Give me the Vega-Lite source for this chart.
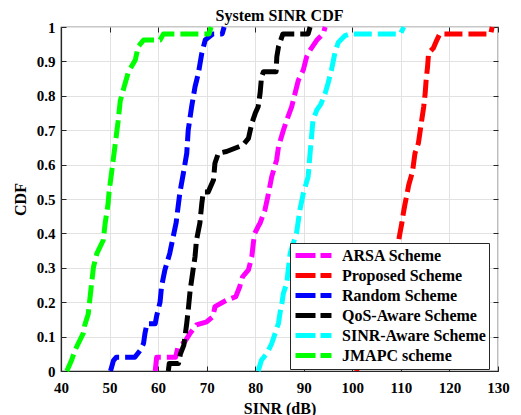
{
  "$schema": "https://vega.github.io/schema/vega-lite/v6.json",
  "width": 437,
  "height": 344,
  "autosize": "none",
  "padding": {"left": 61, "top": 27, "right": 23, "bottom": 44},
  "background": "white",
  "title": {
    "text": "System SINR CDF",
    "font": "Liberation Serif",
    "fontSize": 16,
    "fontWeight": "bold",
    "color": "#000000",
    "offset": -4
  },
  "data": {
    "values": [
      {"s": "ARSA Scheme", "x": 59.4, "y": 0},
      {"s": "ARSA Scheme", "x": 59.7, "y": 0.04},
      {"s": "ARSA Scheme", "x": 63.6, "y": 0.04},
      {"s": "ARSA Scheme", "x": 64.1, "y": 0.07},
      {"s": "ARSA Scheme", "x": 65.5, "y": 0.085},
      {"s": "ARSA Scheme", "x": 66.6, "y": 0.11},
      {"s": "ARSA Scheme", "x": 67.9, "y": 0.134},
      {"s": "ARSA Scheme", "x": 70.0, "y": 0.143},
      {"s": "ARSA Scheme", "x": 71.3, "y": 0.158},
      {"s": "ARSA Scheme", "x": 71.7, "y": 0.187},
      {"s": "ARSA Scheme", "x": 74.1, "y": 0.206},
      {"s": "ARSA Scheme", "x": 76.0, "y": 0.216},
      {"s": "ARSA Scheme", "x": 76.8, "y": 0.245},
      {"s": "ARSA Scheme", "x": 77.4, "y": 0.274},
      {"s": "ARSA Scheme", "x": 78.6, "y": 0.294},
      {"s": "ARSA Scheme", "x": 79.3, "y": 0.332},
      {"s": "ARSA Scheme", "x": 79.6, "y": 0.371},
      {"s": "ARSA Scheme", "x": 79.9, "y": 0.4},
      {"s": "ARSA Scheme", "x": 80.6, "y": 0.42},
      {"s": "ARSA Scheme", "x": 81.0, "y": 0.43},
      {"s": "ARSA Scheme", "x": 82.0, "y": 0.468},
      {"s": "ARSA Scheme", "x": 82.6, "y": 0.507},
      {"s": "ARSA Scheme", "x": 83.4, "y": 0.565},
      {"s": "ARSA Scheme", "x": 84.4, "y": 0.613},
      {"s": "ARSA Scheme", "x": 84.8, "y": 0.652},
      {"s": "ARSA Scheme", "x": 85.8, "y": 0.7},
      {"s": "ARSA Scheme", "x": 86.5, "y": 0.73},
      {"s": "ARSA Scheme", "x": 87.5, "y": 0.768},
      {"s": "ARSA Scheme", "x": 88.2, "y": 0.807},
      {"s": "ARSA Scheme", "x": 88.9, "y": 0.846},
      {"s": "ARSA Scheme", "x": 89.9, "y": 0.875},
      {"s": "ARSA Scheme", "x": 90.6, "y": 0.914},
      {"s": "ARSA Scheme", "x": 91.3, "y": 0.933},
      {"s": "ARSA Scheme", "x": 92.7, "y": 0.962},
      {"s": "ARSA Scheme", "x": 94.0, "y": 0.98},
      {"s": "ARSA Scheme", "x": 94.4, "y": 1},

      {"s": "Proposed Scheme", "x": 100.9, "y": 0},
      {"s": "Proposed Scheme", "x": 101.1, "y": 0.02},
      {"s": "Proposed Scheme", "x": 102.6, "y": 0.02},
      {"s": "Proposed Scheme", "x": 103.5, "y": 0.08},
      {"s": "Proposed Scheme", "x": 104.5, "y": 0.15},
      {"s": "Proposed Scheme", "x": 105.5, "y": 0.2},
      {"s": "Proposed Scheme", "x": 106.5, "y": 0.26},
      {"s": "Proposed Scheme", "x": 107.5, "y": 0.3},
      {"s": "Proposed Scheme", "x": 108.5, "y": 0.34},
      {"s": "Proposed Scheme", "x": 109.5, "y": 0.376},
      {"s": "Proposed Scheme", "x": 109.8, "y": 0.4},
      {"s": "Proposed Scheme", "x": 110.2, "y": 0.43},
      {"s": "Proposed Scheme", "x": 110.5, "y": 0.458},
      {"s": "Proposed Scheme", "x": 110.8, "y": 0.482},
      {"s": "Proposed Scheme", "x": 111.2, "y": 0.51},
      {"s": "Proposed Scheme", "x": 111.6, "y": 0.54},
      {"s": "Proposed Scheme", "x": 112.4, "y": 0.58},
      {"s": "Proposed Scheme", "x": 112.9, "y": 0.633},
      {"s": "Proposed Scheme", "x": 113.6, "y": 0.662},
      {"s": "Proposed Scheme", "x": 114.0, "y": 0.7},
      {"s": "Proposed Scheme", "x": 114.3, "y": 0.73},
      {"s": "Proposed Scheme", "x": 114.7, "y": 0.768},
      {"s": "Proposed Scheme", "x": 115.0, "y": 0.807},
      {"s": "Proposed Scheme", "x": 115.2, "y": 0.846},
      {"s": "Proposed Scheme", "x": 115.5, "y": 0.885},
      {"s": "Proposed Scheme", "x": 115.7, "y": 0.924},
      {"s": "Proposed Scheme", "x": 116.7, "y": 0.939},
      {"s": "Proposed Scheme", "x": 117.4, "y": 0.962},
      {"s": "Proposed Scheme", "x": 118.0, "y": 0.98},
      {"s": "Proposed Scheme", "x": 128.5, "y": 0.98},
      {"s": "Proposed Scheme", "x": 128.8, "y": 1},

      {"s": "Random Scheme", "x": 50.2, "y": 0},
      {"s": "Random Scheme", "x": 50.8, "y": 0.03},
      {"s": "Random Scheme", "x": 51.4, "y": 0.04},
      {"s": "Random Scheme", "x": 55.2, "y": 0.04},
      {"s": "Random Scheme", "x": 56.3, "y": 0.06},
      {"s": "Random Scheme", "x": 57.0, "y": 0.08},
      {"s": "Random Scheme", "x": 57.3, "y": 0.11},
      {"s": "Random Scheme", "x": 57.7, "y": 0.137},
      {"s": "Random Scheme", "x": 59.4, "y": 0.137},
      {"s": "Random Scheme", "x": 59.7, "y": 0.16},
      {"s": "Random Scheme", "x": 60.4, "y": 0.2},
      {"s": "Random Scheme", "x": 60.7, "y": 0.245},
      {"s": "Random Scheme", "x": 61.4, "y": 0.294},
      {"s": "Random Scheme", "x": 62.4, "y": 0.342},
      {"s": "Random Scheme", "x": 63.1, "y": 0.39},
      {"s": "Random Scheme", "x": 63.7, "y": 0.43},
      {"s": "Random Scheme", "x": 64.2, "y": 0.487},
      {"s": "Random Scheme", "x": 64.5, "y": 0.52},
      {"s": "Random Scheme", "x": 65.2, "y": 0.575},
      {"s": "Random Scheme", "x": 65.9, "y": 0.633},
      {"s": "Random Scheme", "x": 66.2, "y": 0.7},
      {"s": "Random Scheme", "x": 66.9, "y": 0.768},
      {"s": "Random Scheme", "x": 67.6, "y": 0.826},
      {"s": "Random Scheme", "x": 68.3, "y": 0.866},
      {"s": "Random Scheme", "x": 69.0, "y": 0.924},
      {"s": "Random Scheme", "x": 69.7, "y": 0.962},
      {"s": "Random Scheme", "x": 71.3, "y": 0.98},
      {"s": "Random Scheme", "x": 73.2, "y": 0.98},
      {"s": "Random Scheme", "x": 73.6, "y": 1},

      {"s": "QoS-Aware Scheme", "x": 62.1, "y": 0},
      {"s": "QoS-Aware Scheme", "x": 62.3, "y": 0.022},
      {"s": "QoS-Aware Scheme", "x": 64.2, "y": 0.022},
      {"s": "QoS-Aware Scheme", "x": 64.6, "y": 0.05},
      {"s": "QoS-Aware Scheme", "x": 65.3, "y": 0.075},
      {"s": "QoS-Aware Scheme", "x": 65.9, "y": 0.139},
      {"s": "QoS-Aware Scheme", "x": 66.2, "y": 0.177},
      {"s": "QoS-Aware Scheme", "x": 66.6, "y": 0.235},
      {"s": "QoS-Aware Scheme", "x": 67.2, "y": 0.294},
      {"s": "QoS-Aware Scheme", "x": 67.6, "y": 0.332},
      {"s": "QoS-Aware Scheme", "x": 67.9, "y": 0.38},
      {"s": "QoS-Aware Scheme", "x": 68.6, "y": 0.43},
      {"s": "QoS-Aware Scheme", "x": 69.0, "y": 0.487},
      {"s": "QoS-Aware Scheme", "x": 69.3, "y": 0.52},
      {"s": "QoS-Aware Scheme", "x": 70.3, "y": 0.52},
      {"s": "QoS-Aware Scheme", "x": 71.4, "y": 0.555},
      {"s": "QoS-Aware Scheme", "x": 71.7, "y": 0.604},
      {"s": "QoS-Aware Scheme", "x": 72.4, "y": 0.633},
      {"s": "QoS-Aware Scheme", "x": 74.1, "y": 0.638},
      {"s": "QoS-Aware Scheme", "x": 77.5, "y": 0.657},
      {"s": "QoS-Aware Scheme", "x": 78.6, "y": 0.676},
      {"s": "QoS-Aware Scheme", "x": 79.3, "y": 0.72},
      {"s": "QoS-Aware Scheme", "x": 80.0, "y": 0.749},
      {"s": "QoS-Aware Scheme", "x": 80.6, "y": 0.768},
      {"s": "QoS-Aware Scheme", "x": 81.0, "y": 0.807},
      {"s": "QoS-Aware Scheme", "x": 81.3, "y": 0.855},
      {"s": "QoS-Aware Scheme", "x": 81.7, "y": 0.87},
      {"s": "QoS-Aware Scheme", "x": 84.3, "y": 0.87},
      {"s": "QoS-Aware Scheme", "x": 84.45, "y": 0.914},
      {"s": "QoS-Aware Scheme", "x": 84.8, "y": 0.943},
      {"s": "QoS-Aware Scheme", "x": 85.7, "y": 0.98},
      {"s": "QoS-Aware Scheme", "x": 90.9, "y": 0.98},
      {"s": "QoS-Aware Scheme", "x": 91.3, "y": 1},

      {"s": "SINR-Aware Scheme", "x": 80.6, "y": 0},
      {"s": "SINR-Aware Scheme", "x": 81.3, "y": 0.032},
      {"s": "SINR-Aware Scheme", "x": 82.4, "y": 0.051},
      {"s": "SINR-Aware Scheme", "x": 83.4, "y": 0.08},
      {"s": "SINR-Aware Scheme", "x": 84.1, "y": 0.11},
      {"s": "SINR-Aware Scheme", "x": 84.8, "y": 0.139},
      {"s": "SINR-Aware Scheme", "x": 85.1, "y": 0.168},
      {"s": "SINR-Aware Scheme", "x": 85.5, "y": 0.197},
      {"s": "SINR-Aware Scheme", "x": 85.8, "y": 0.226},
      {"s": "SINR-Aware Scheme", "x": 86.5, "y": 0.255},
      {"s": "SINR-Aware Scheme", "x": 86.8, "y": 0.294},
      {"s": "SINR-Aware Scheme", "x": 87.2, "y": 0.342},
      {"s": "SINR-Aware Scheme", "x": 87.8, "y": 0.37},
      {"s": "SINR-Aware Scheme", "x": 88.5, "y": 0.4},
      {"s": "SINR-Aware Scheme", "x": 89.2, "y": 0.468},
      {"s": "SINR-Aware Scheme", "x": 89.9, "y": 0.516},
      {"s": "SINR-Aware Scheme", "x": 90.9, "y": 0.565},
      {"s": "SINR-Aware Scheme", "x": 91.3, "y": 0.633},
      {"s": "SINR-Aware Scheme", "x": 91.6, "y": 0.681},
      {"s": "SINR-Aware Scheme", "x": 91.9, "y": 0.73},
      {"s": "SINR-Aware Scheme", "x": 92.7, "y": 0.759},
      {"s": "SINR-Aware Scheme", "x": 93.5, "y": 0.775},
      {"s": "SINR-Aware Scheme", "x": 94.4, "y": 0.807},
      {"s": "SINR-Aware Scheme", "x": 95.0, "y": 0.836},
      {"s": "SINR-Aware Scheme", "x": 95.7, "y": 0.875},
      {"s": "SINR-Aware Scheme", "x": 96.4, "y": 0.924},
      {"s": "SINR-Aware Scheme", "x": 97.1, "y": 0.955},
      {"s": "SINR-Aware Scheme", "x": 98.5, "y": 0.975},
      {"s": "SINR-Aware Scheme", "x": 99.5, "y": 0.98},
      {"s": "SINR-Aware Scheme", "x": 109.9, "y": 0.98},
      {"s": "SINR-Aware Scheme", "x": 110.6, "y": 1},

      {"s": "JMAPC scheme", "x": 41.2, "y": 0},
      {"s": "JMAPC scheme", "x": 42.2, "y": 0.032},
      {"s": "JMAPC scheme", "x": 42.9, "y": 0.061},
      {"s": "JMAPC scheme", "x": 43.9, "y": 0.09},
      {"s": "JMAPC scheme", "x": 44.6, "y": 0.11},
      {"s": "JMAPC scheme", "x": 44.9, "y": 0.134},
      {"s": "JMAPC scheme", "x": 45.6, "y": 0.165},
      {"s": "JMAPC scheme", "x": 46.0, "y": 0.216},
      {"s": "JMAPC scheme", "x": 46.3, "y": 0.255},
      {"s": "JMAPC scheme", "x": 46.7, "y": 0.303},
      {"s": "JMAPC scheme", "x": 47.4, "y": 0.342},
      {"s": "JMAPC scheme", "x": 48.7, "y": 0.38},
      {"s": "JMAPC scheme", "x": 49.1, "y": 0.43},
      {"s": "JMAPC scheme", "x": 49.7, "y": 0.487},
      {"s": "JMAPC scheme", "x": 49.9, "y": 0.52},
      {"s": "JMAPC scheme", "x": 50.4, "y": 0.575},
      {"s": "JMAPC scheme", "x": 51.1, "y": 0.652},
      {"s": "JMAPC scheme", "x": 51.8, "y": 0.73},
      {"s": "JMAPC scheme", "x": 52.2, "y": 0.785},
      {"s": "JMAPC scheme", "x": 53.0, "y": 0.826},
      {"s": "JMAPC scheme", "x": 53.9, "y": 0.87},
      {"s": "JMAPC scheme", "x": 55.3, "y": 0.904},
      {"s": "JMAPC scheme", "x": 55.9, "y": 0.943},
      {"s": "JMAPC scheme", "x": 57.0, "y": 0.962},
      {"s": "JMAPC scheme", "x": 60.4, "y": 0.962},
      {"s": "JMAPC scheme", "x": 61.1, "y": 0.98},
      {"s": "JMAPC scheme", "x": 70.5, "y": 0.98},
      {"s": "JMAPC scheme", "x": 70.9, "y": 1}
    ]
  },
  "transform": [{"window": [{"op": "row_number", "as": "i"}]}],
  "layer": [
    {
      "mark": {"type": "line", "strokeWidth": 5, "strokeDash": [18, 6], "strokeCap": "butt", "strokeJoin": "round"},
      "encoding": {
        "x": {
          "field": "x", "type": "quantitative",
          "scale": {"domain": [40, 130], "nice": false, "zero": false},
          "axis": {"title": "SINR (dB)", "values": [40, 50, 60, 70, 80, 90, 100, 110, 120, 130], "labelPadding": 14, "titlePadding": 5}
        },
        "y": {
          "field": "y", "type": "quantitative",
          "scale": {"domain": [0, 1], "nice": false},
          "axis": {"title": "CDF", "values": [0, 0.1, 0.2, 0.3, 0.4, 0.5, 0.6, 0.7, 0.8, 0.9, 1], "format": "~g", "labelPadding": 11, "titlePadding": 8}
        },
        "color": {
          "field": "s", "type": "nominal",
          "scale": {
            "domain": ["ARSA Scheme", "Proposed Scheme", "Random Scheme", "QoS-Aware Scheme", "SINR-Aware Scheme", "JMAPC scheme"],
            "range": ["#ff00ff", "#ff0000", "#0000ff", "#000000", "#00ffff", "#00ff00"]
          },
          "legend": {
            "title": null,
            "orient": "none",
            "legendX": 229,
            "legendY": 216,
            "fillColor": "white",
            "strokeColor": "#262626",
            "padding": 3,
            "symbolType": "M-1,0H4.14",
            "symbolSize": 196,
            "symbolStrokeWidth": 5,
            "symbolDash": [20, 5],
            "symbolOpacity": 1,
            "labelFont": "Liberation Serif",
            "labelFontSize": 16,
            "labelFontWeight": "bold",
            "labelColor": "#000000",
            "labelOffset": 30,
            "rowPadding": -1.3,
            "labelLimit": 300
          }
        },
        "order": {"field": "i", "type": "quantitative"}
      }
    },
    {
      "mark": {"type": "point", "opacity": 0},
      "encoding": {
        "x": {
          "field": "x", "type": "quantitative",
          "axis": {"orient": "top", "title": null, "labels": false, "grid": false, "domain": false, "values": [40, 50, 60, 70, 80, 90, 100, 110, 120, 130]}
        },
        "y": {
          "field": "y", "type": "quantitative",
          "axis": {"orient": "right", "title": null, "labels": false, "grid": false, "domain": false, "values": [0, 0.1, 0.2, 0.3, 0.4, 0.5, 0.6, 0.7, 0.8, 0.9, 1]}
        }
      }
    }
  ],
  "resolve": {"axis": {"x": "independent", "y": "independent"}},
  "config": {
    "view": {"stroke": "#262626", "strokeWidth": 1.2},
    "axis": {
      "labelFont": "Liberation Serif",
      "labelFontSize": 15,
      "labelFontWeight": "bold",
      "labelColor": "#000000",
      "labelFlush": false,
      "labelOverlap": false,
      "titleFont": "Liberation Serif",
      "titleFontSize": 16,
      "titleFontWeight": "bold",
      "titleColor": "#000000",
      "domainColor": "#262626",
      "domainWidth": 1.2,
      "tickColor": "#262626",
      "tickSize": -5,
      "tickWidth": 1,
      "gridColor": "#e2e2e2",
      "gridWidth": 1
    }
  }
}
